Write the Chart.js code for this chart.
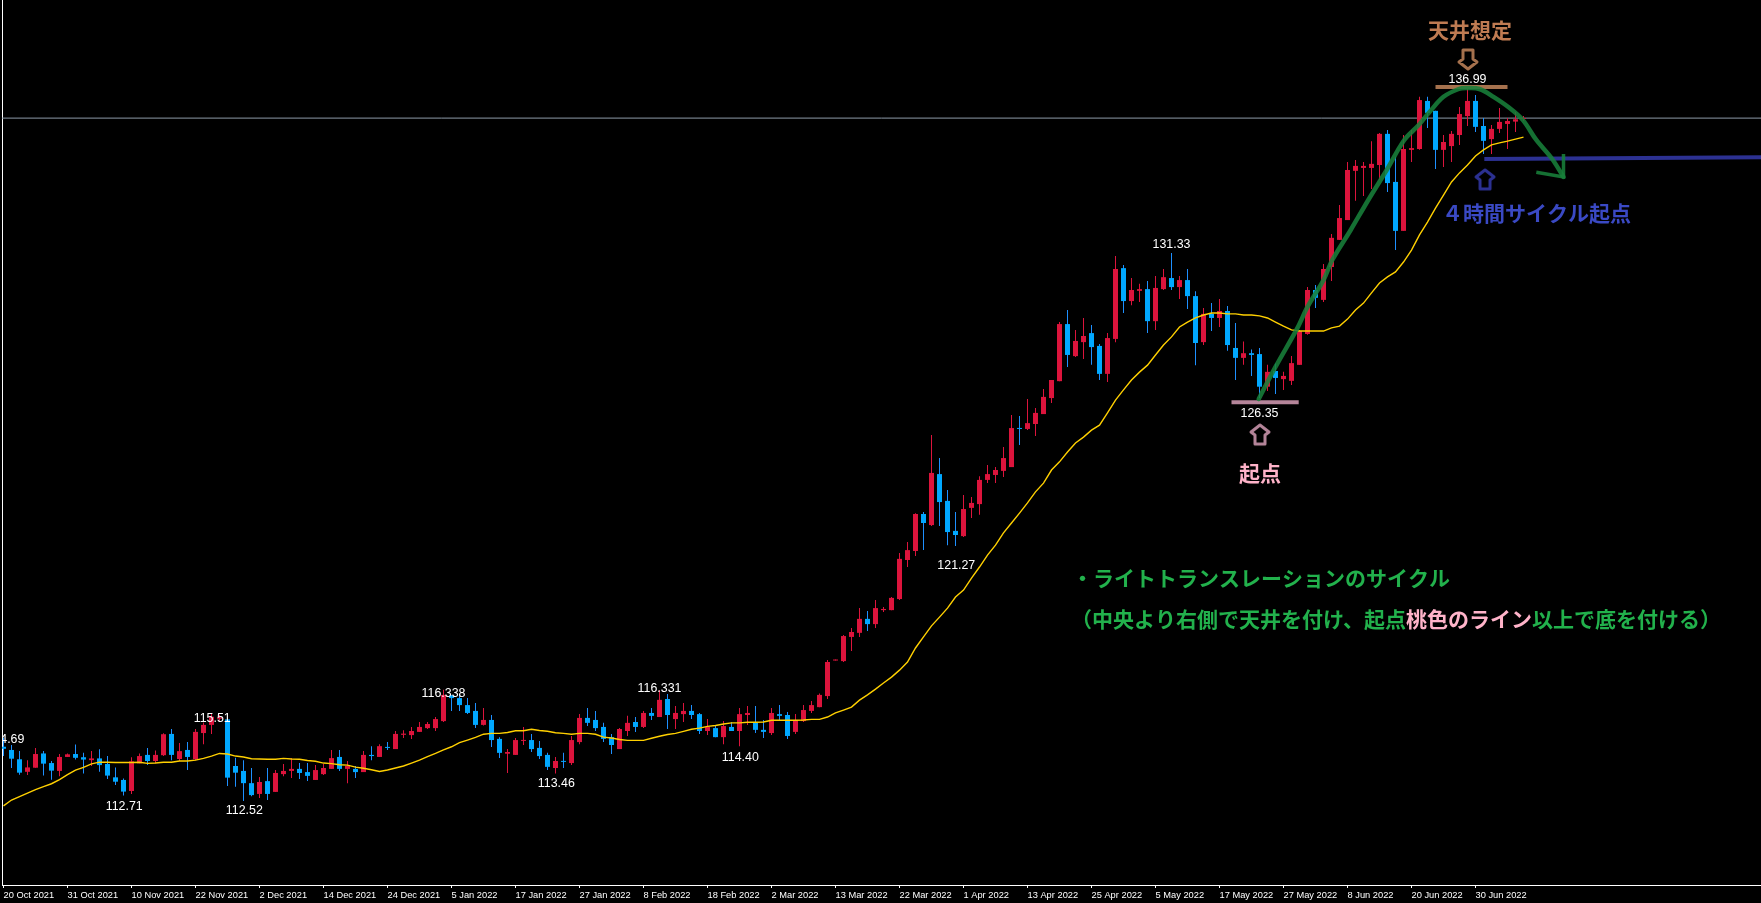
<!DOCTYPE html>
<html lang="ja">
<head>
<meta charset="utf-8">
<title>Weekly cycle chart</title>
<style>
  html, body { margin: 0; padding: 0; background: #000; }
  canvas { display: block; }
</style>
<script src="https://cdn.jsdelivr.net/npm/chart.js@4/dist/chart.umd.min.js"></script>
</head>
<body>
<canvas id="priceChart" width="1761" height="903"></canvas>
<script>
const dateLabels = ["20 Oct 2021","31 Oct 2021","10 Nov 2021","22 Nov 2021","2 Dec 2021","14 Dec 2021","24 Dec 2021","5 Jan 2022",
  "17 Jan 2022","27 Jan 2022","8 Feb 2022","18 Feb 2022","2 Mar 2022","13 Mar 2022","22 Mar 2022","1 Apr 2022",
  "13 Apr 2022","25 Apr 2022","5 May 2022","17 May 2022","27 May 2022","8 Jun 2022","20 Jun 2022","30 Jun 2022"];
const barsPerLabel = 8;

const opens = [
  114.38,114.27,113.95,113.52,113.66,114.15,113.82,113.55,114.03,114.13,
  114.02,113.92,113.98,113.79,113.33,113.24,112.86,113.81,114.10,113.89,
  114.09,114.82,113.96,114.27,113.95,114.85,115.13,115.34,115.32,113.72,
  113.55,113.13,112.76,113.20,112.83,113.44,113.55,113.62,113.51,113.24,
  113.44,113.62,114.03,113.62,113.62,113.51,114.10,114.03,114.37,114.30,
  114.79,114.78,114.89,115.02,115.02,115.26,116.14,116.05,115.81,115.61,
  115.13,115.30,114.65,114.14,114.10,114.58,114.61,114.34,114.10,113.65,
  113.89,113.82,114.54,115.37,115.30,115.06,114.71,114.30,114.92,115.23,
  115.06,115.54,115.40,116.02,115.33,115.50,115.61,115.50,114.92,115.02,
  114.71,115.06,114.92,115.47,115.20,114.96,114.85,115.50,115.47,114.89,
  115.26,115.61,115.74,116.12,117.34,117.32,118.15,118.29,118.77,118.59,
  119.07,119.07,119.45,120.79,121.10,122.37,121.99,123.74,122.82,121.79,
  121.61,122.58,122.71,123.54,123.71,123.85,123.98,125.32,125.29,125.46,
  125.80,126.35,126.93,128.89,127.79,128.27,128.58,128.14,127.18,128.38,
  130.81,129.68,130.03,130.09,128.99,130.09,130.47,130.16,130.40,129.85,
  128.27,129.24,129.10,129.34,128.07,127.73,127.89,127.86,126.74,127.28,
  127.00,126.94,127.49,128.55,130.06,129.72,130.85,131.78,132.46,134.15,
  134.25,134.25,134.35,135.42,133.77,132.09,134.87,134.90,136.55,136.21,
  134.87,135.00,135.38,136.03,136.55,135.69,135.24,135.59,135.76,135.84,
  135.93];
const closes = [
  114.31,113.97,113.49,113.67,114.13,113.80,113.56,114.03,114.12,114.00,
  113.94,113.98,113.75,113.39,113.18,112.84,113.88,114.06,113.89,114.10,
  114.81,114.10,114.23,114.03,114.89,115.13,115.41,115.39,113.32,113.49,
  113.13,112.72,113.17,112.76,113.48,113.55,113.62,113.48,113.38,113.58,
  113.65,113.99,113.62,113.72,113.51,114.10,114.06,114.40,114.34,114.82,
  114.83,114.92,115.06,115.16,115.33,116.16,116.05,115.81,115.54,115.13,
  115.30,114.61,114.17,114.20,114.61,114.61,114.30,114.06,113.69,113.89,
  113.86,114.61,115.37,115.20,115.02,114.65,114.44,114.99,115.20,115.06,
  115.54,115.44,115.99,115.47,115.54,115.61,115.47,114.92,115.06,114.71,
  115.09,114.92,115.50,115.54,114.96,114.89,115.54,115.44,114.75,115.30,
  115.64,115.81,116.16,117.29,117.36,118.18,118.32,118.77,118.59,119.14,
  119.11,119.49,120.83,121.13,122.37,122.06,123.78,122.78,121.75,121.65,
  122.54,122.75,123.54,123.74,123.88,124.29,125.32,125.29,125.49,125.84,
  126.39,126.97,128.89,127.83,128.31,128.48,128.10,127.18,128.41,130.78,
  129.68,130.06,130.09,128.99,130.13,130.50,130.16,130.40,129.85,128.24,
  129.24,129.10,129.34,128.17,127.73,127.89,127.83,126.74,127.25,127.04,
  127.11,127.55,128.65,130.06,129.79,130.78,131.85,132.53,134.18,134.32,
  134.32,134.39,135.42,133.73,132.09,134.90,134.93,136.58,136.14,134.87,
  135.14,135.42,136.10,136.55,135.66,135.18,135.59,135.83,135.86,135.92,
  135.95];
const highs = [
  114.69,114.44,114.23,113.92,114.34,114.23,113.89,114.13,114.15,114.46,
  114.17,114.23,114.29,114.06,113.67,113.29,114.02,114.15,114.34,114.25,
  114.84,114.99,114.51,114.54,114.99,115.21,115.51,115.48,115.37,114.00,
  113.92,113.65,113.34,113.65,113.58,113.79,113.99,113.82,113.82,113.75,
  113.79,114.27,114.27,113.89,113.72,114.23,114.40,114.47,114.54,114.92,
  114.95,115.06,115.23,115.23,115.40,116.34,116.16,116.19,116.05,115.88,
  115.71,115.47,114.71,114.30,114.68,115.06,114.82,114.58,114.17,114.03,
  114.17,114.75,115.50,115.71,115.61,115.20,114.82,115.02,115.44,115.40,
  115.61,115.71,116.33,116.19,115.78,115.88,115.81,115.54,115.33,115.09,
  115.26,115.23,115.71,115.78,115.78,115.30,115.71,115.81,115.57,115.50,
  115.81,115.95,116.21,117.36,117.36,118.22,118.46,119.14,119.04,119.42,
  119.18,119.52,121.03,121.41,122.40,122.44,125.08,124.29,123.19,122.44,
  123.02,122.95,123.67,124.05,123.98,124.67,125.77,125.73,126.32,126.01,
  126.66,126.97,128.96,129.37,128.69,129.10,128.86,128.21,128.58,131.23,
  130.92,130.47,130.27,130.37,130.54,130.78,131.33,130.54,130.78,130.02,
  129.44,129.61,129.75,129.51,128.93,128.29,128.02,128.07,127.49,127.54,
  127.25,127.79,128.69,130.16,130.23,130.95,131.98,132.98,134.45,134.52,
  134.45,135.17,135.45,135.55,134.63,135.38,135.55,136.69,136.69,136.21,
  135.38,135.52,136.34,136.99,136.75,135.96,135.72,136.31,135.96,136.17,
  136.03];
const lows = [
  114.06,113.65,113.42,113.41,113.66,113.39,113.25,113.37,114.03,113.94,
  113.46,113.72,113.52,113.27,113.07,112.71,112.76,113.81,113.75,113.81,
  114.06,113.92,113.89,113.58,113.92,114.47,114.82,115.27,113.03,113.01,
  112.52,112.68,112.62,112.55,112.83,113.37,113.31,113.27,113.20,113.24,
  113.41,113.62,113.55,113.13,113.31,113.51,113.92,114.03,114.27,114.30,
  114.68,114.65,114.89,114.99,114.92,115.23,115.61,115.61,115.50,115.02,
  115.11,114.37,113.99,113.48,114.10,114.44,114.20,113.96,113.58,113.46,
  113.65,113.75,114.47,115.09,114.92,114.54,114.13,114.30,114.75,114.89,
  115.02,115.30,115.40,114.99,114.99,115.23,115.33,114.82,114.78,114.71,
  114.47,114.92,114.40,115.13,114.85,114.68,114.78,115.30,114.65,114.82,
  115.23,115.54,115.74,116.02,117.34,117.29,117.67,118.15,118.35,118.46,
  119.01,119.07,119.42,120.55,120.93,121.13,121.96,121.96,121.30,121.27,
  121.58,122.23,122.34,123.43,123.43,123.64,123.98,124.74,125.25,125.05,
  125.80,126.18,126.93,127.42,127.76,127.69,127.49,126.97,126.90,128.27,
  129.27,129.54,129.65,128.58,128.69,130.06,130.06,129.75,129.41,127.48,
  128.17,128.65,128.79,127.97,126.97,127.49,127.11,126.35,126.59,126.49,
  126.63,126.80,127.49,128.52,129.44,129.65,130.37,131.78,132.46,133.12,
  133.29,133.53,133.84,133.42,131.43,132.09,134.45,134.87,135.62,134.21,
  134.28,134.45,135.04,135.69,135.48,134.73,134.73,135.45,134.90,135.48,
  135.86];
const movingAverage = [
  112.35,112.55,112.67,112.79,112.91,113.01,113.11,113.25,113.42,113.58,
  113.67,113.79,113.85,113.85,113.84,113.84,113.84,113.85,113.81,113.82,
  113.85,113.85,113.89,113.89,113.92,113.98,114.06,114.15,114.13,114.06,
  114.03,113.97,113.96,113.95,113.95,113.98,113.96,113.95,113.91,113.88,
  113.82,113.80,113.76,113.75,113.68,113.64,113.59,113.53,113.58,113.65,
  113.72,113.82,113.92,114.04,114.15,114.27,114.38,114.52,114.61,114.70,
  114.81,114.84,114.84,114.87,114.93,114.93,114.98,114.94,114.91,114.86,
  114.84,114.81,114.84,114.84,114.81,114.71,114.68,114.63,114.60,114.60,
  114.60,114.67,114.74,114.80,114.84,114.91,114.98,115.02,115.08,115.11,
  115.16,115.20,115.20,115.22,115.22,115.23,115.29,115.29,115.29,115.29,
  115.30,115.32,115.32,115.40,115.54,115.64,115.74,115.98,116.16,116.36,
  116.57,116.77,117.01,117.29,117.77,118.15,118.53,118.83,119.14,119.52,
  119.76,120.17,120.55,120.96,121.30,121.72,122.06,122.40,122.75,123.13,
  123.43,123.88,124.16,124.50,124.81,125.01,125.25,125.42,125.84,126.28,
  126.63,126.97,127.24,127.48,127.83,128.17,128.45,128.79,128.96,129.10,
  129.20,129.27,129.27,129.24,129.24,129.20,129.20,129.17,129.10,128.96,
  128.82,128.69,128.65,128.65,128.65,128.65,128.76,128.82,129.06,129.37,
  129.61,129.96,130.30,130.51,130.68,131.02,131.43,131.95,132.39,132.87,
  133.32,133.77,134.08,134.35,134.66,134.87,135.04,135.11,135.17,135.24,
  135.31];

const currentPrice = 135.96;

// hand drawn overlay, x is the bar number, y the price
const arcBars = [156.9,159,161.75,163,165,166.1,168.4,170.6,172.9,175.1,176.9,178.25,180,181.9,183,184.5,186.25,188.1,189.9,191.6,193.5,195];
const arcPrices = [126.32,127.42,128.76,129.48,130.40,131.09,132.12,133.15,134.18,135.21,135.72,136.17,136.69,136.96,136.99,136.96,136.69,136.34,135.90,135.21,134.59,133.94];
const arrowHeadBars = [195,195,191.6];
const arrowHeadPrices = [134.73,133.94,134.10];
const pinkLineBars = [153.5,161.9];
const pinkLinePrice = 126.21;
const brownLineBars = [179,188];
const brownLinePrice = 137.03;
const navyLineBars = [185.1,219.8];
const navyLinePrices = [134.56,134.62];

const peakLabels = ["114.69","112.71","115.51","112.52","116.338","113.46","116.331","114.40","121.27","131.33","126.35","136.99"];
const peakLabelBars = [0.3,15.09,26.09,30.1,55,69.1,82,92.1,119.1,146.0,157.0,183.0];
const peakLabelPrices = [114.64,112.32,115.36,112.20,116.22,113.13,116.39,114.02,120.61,131.63,125.83,137.30];

const arrowBars = [183.06,157.06,185.19];
const arrowPrices = [137.99,125.08,133.84];
const arrowColors = ["#a5714d","#b5859a","#2c3192"];
const arrowDown = [true,false,false];

const noteTexts = ["天井想定","起点","４時間サイクル起点","・ライトトランスレーションのサイクル"];
const noteBars = [183.3,157.06,179.8,133.56];
const notePrices = [138.98,123.78,132.70,120.17];
const noteColors = ["#bf7b52","#ffb3c9","#3a49c4","#22b14c"];
const noteAligns = ["center","center","left","left"];
const lastNoteParts = ["（中央より右側で天井を付け、起点","桃色のライン","以上で底を付ける）"];
const lastNoteColors = ["#22b14c","#ffb3c9","#22b14c"];
const lastNoteBar = 133.44;
const lastNotePrice = 118.77;

const upColor = "#dc143c";
const downColor = "#00a8ff";
const downWickColor = "#1e90ff";
const cjkFont = "700 21px 'Noto Sans CJK JP'";

const barNumbers = opens.map((v, i) => i);
const isUp = barNumbers.map(i => closes[i] >= opens[i]);

function hollowArrow(color, down) {
  const c = document.createElement("canvas");
  c.width = 26;
  c.height = 26;
  const g = c.getContext("2d");
  if (down) {
    g.translate(0, 26);
    g.scale(1, -1);
  }
  g.strokeStyle = color;
  g.lineWidth = 3;
  g.lineJoin = "round";
  g.beginPath();
  g.moveTo(13, 3);
  g.lineTo(22, 10);
  g.lineTo(18, 13);
  g.lineTo(18, 22);
  g.lineTo(8, 22);
  g.lineTo(8, 13);
  g.lineTo(4, 10);
  g.closePath();
  g.stroke();
  return c;
}

function flatLine(bars, price, color, width) {
  return {
    type: "line",
    data: bars.map(b => ({ x: b, y: price })),
    borderColor: color,
    borderWidth: width,
    pointRadius: 0,
    order: 2
  };
}

// peak labels and the Japanese notes
const textPlugin = {
  id: "chartTexts",
  afterDatasetsDraw(chart) {
    const { ctx, chartArea, scales } = chart;
    ctx.save();
    ctx.beginPath();
    ctx.rect(chartArea.left, 0, chartArea.width, chartArea.bottom);
    ctx.clip();
    ctx.textBaseline = "middle";

    ctx.font = "12.4px 'Liberation Sans'";
    ctx.fillStyle = "#ffffff";
    ctx.textAlign = "center";
    peakLabels.forEach((t, i) => {
      ctx.fillText(t, scales.x.getPixelForValue(peakLabelBars[i]), scales.y.getPixelForValue(peakLabelPrices[i]));
    });

    ctx.font = cjkFont;
    noteTexts.forEach((t, i) => {
      ctx.fillStyle = noteColors[i];
      ctx.textAlign = noteAligns[i];
      ctx.fillText(t, scales.x.getPixelForValue(noteBars[i]), scales.y.getPixelForValue(notePrices[i]));
    });

    ctx.textAlign = "left";
    let x = scales.x.getPixelForValue(lastNoteBar);
    const y = scales.y.getPixelForValue(lastNotePrice);
    lastNoteParts.forEach((t, i) => {
      ctx.fillStyle = lastNoteColors[i];
      ctx.fillText(t, x, y);
      x += ctx.measureText(t).width;
    });
    ctx.restore();
  }
};

const ctx = document.getElementById("priceChart").getContext("2d");
new Chart(ctx, {
  data: {
    datasets: [
      {
        type: "line",
        data: [{ x: -1, y: currentPrice }, { x: 220, y: currentPrice }],
        borderColor: "#8d9aa8",
        borderWidth: 1,
        pointRadius: 0,
        order: 6
      },
      {
        type: "bar",
        data: barNumbers.map(i => ({ x: i, y: [lows[i], highs[i]] })),
        backgroundColor: barNumbers.map(i => isUp[i] ? upColor : downWickColor),
        barThickness: 1,
        grouped: false,
        inflateAmount: 0,
        minBarLength: 1,
        order: 5
      },
      {
        type: "bar",
        data: barNumbers.map(i => ({ x: i, y: [Math.min(opens[i], closes[i]), Math.max(opens[i], closes[i])] })),
        backgroundColor: barNumbers.map(i => isUp[i] ? upColor : downColor),
        barThickness: 5,
        grouped: false,
        inflateAmount: 0,
        minBarLength: 1,
        order: 4
      },
      {
        type: "line",
        data: barNumbers.map(i => ({ x: i, y: movingAverage[i] })),
        borderColor: "#ffd000",
        borderWidth: 1.4,
        pointRadius: 0,
        order: 3
      },
      flatLine(pinkLineBars, pinkLinePrice, "#b5859a", 4),
      flatLine(brownLineBars, brownLinePrice, "#a5714d", 4),
      {
        type: "line",
        data: navyLineBars.map((b, i) => ({ x: b, y: navyLinePrices[i] })),
        borderColor: "#2c3192",
        borderWidth: 4,
        pointRadius: 0,
        order: 2
      },
      {
        type: "line",
        data: arcBars.map((b, i) => ({ x: b, y: arcPrices[i] })),
        borderColor: "rgba(24,128,58,0.88)",
        borderWidth: 4.5,
        borderCapStyle: "round",
        tension: 0.35,
        pointRadius: 0,
        order: 1
      },
      {
        type: "line",
        data: arrowHeadBars.map((b, i) => ({ x: b, y: arrowHeadPrices[i] })),
        borderColor: "rgba(24,128,58,0.88)",
        borderWidth: 3.5,
        pointRadius: 0,
        order: 1
      },
      {
        type: "line",
        data: arrowBars.map((b, i) => ({ x: b, y: arrowPrices[i] })),
        showLine: false,
        pointStyle: arrowColors.map((c, i) => hollowArrow(c, arrowDown[i])),
        order: 1
      }
    ]
  },
  options: {
    responsive: false,
    animation: false,
    events: [],
    layout: { padding: 0, autoPadding: false },
    plugins: {
      legend: { display: false },
      tooltip: { enabled: false },
      title: { display: false }
    },
    scales: {
      x: {
        type: "linear",
        offset: false,
        min: -0.1875,
        max: 219.6875,
        afterBuildTicks: axis => {
          axis.ticks = dateLabels.map((d, i) => ({ value: i * barsPerLabel }));
        },
        afterFit: axis => { axis.height = 18; },
        grid: { offset: false, drawOnChartArea: false, color: "#ffffff", tickLength: 3 },
        border: { color: "#ffffff", width: 1 },
        ticks: {
          autoSkip: false,
          maxRotation: 0,
          align: "start",
          padding: 2,
          color: "#ffffff",
          font: { family: "'Liberation Sans'", size: 9.3 },
          callback: value => dateLabels[value / barsPerLabel]
        }
      },
      y: {
        type: "linear",
        min: 109.634,
        max: 140.015,
        afterFit: axis => { axis.width = 2; },
        grid: { drawOnChartArea: false, drawTicks: false, tickLength: 0 },
        border: { color: "#ffffff", width: 1 },
        ticks: { display: false }
      }
    }
  },
  plugins: [textPlugin]
});
</script>
</body>
</html>
